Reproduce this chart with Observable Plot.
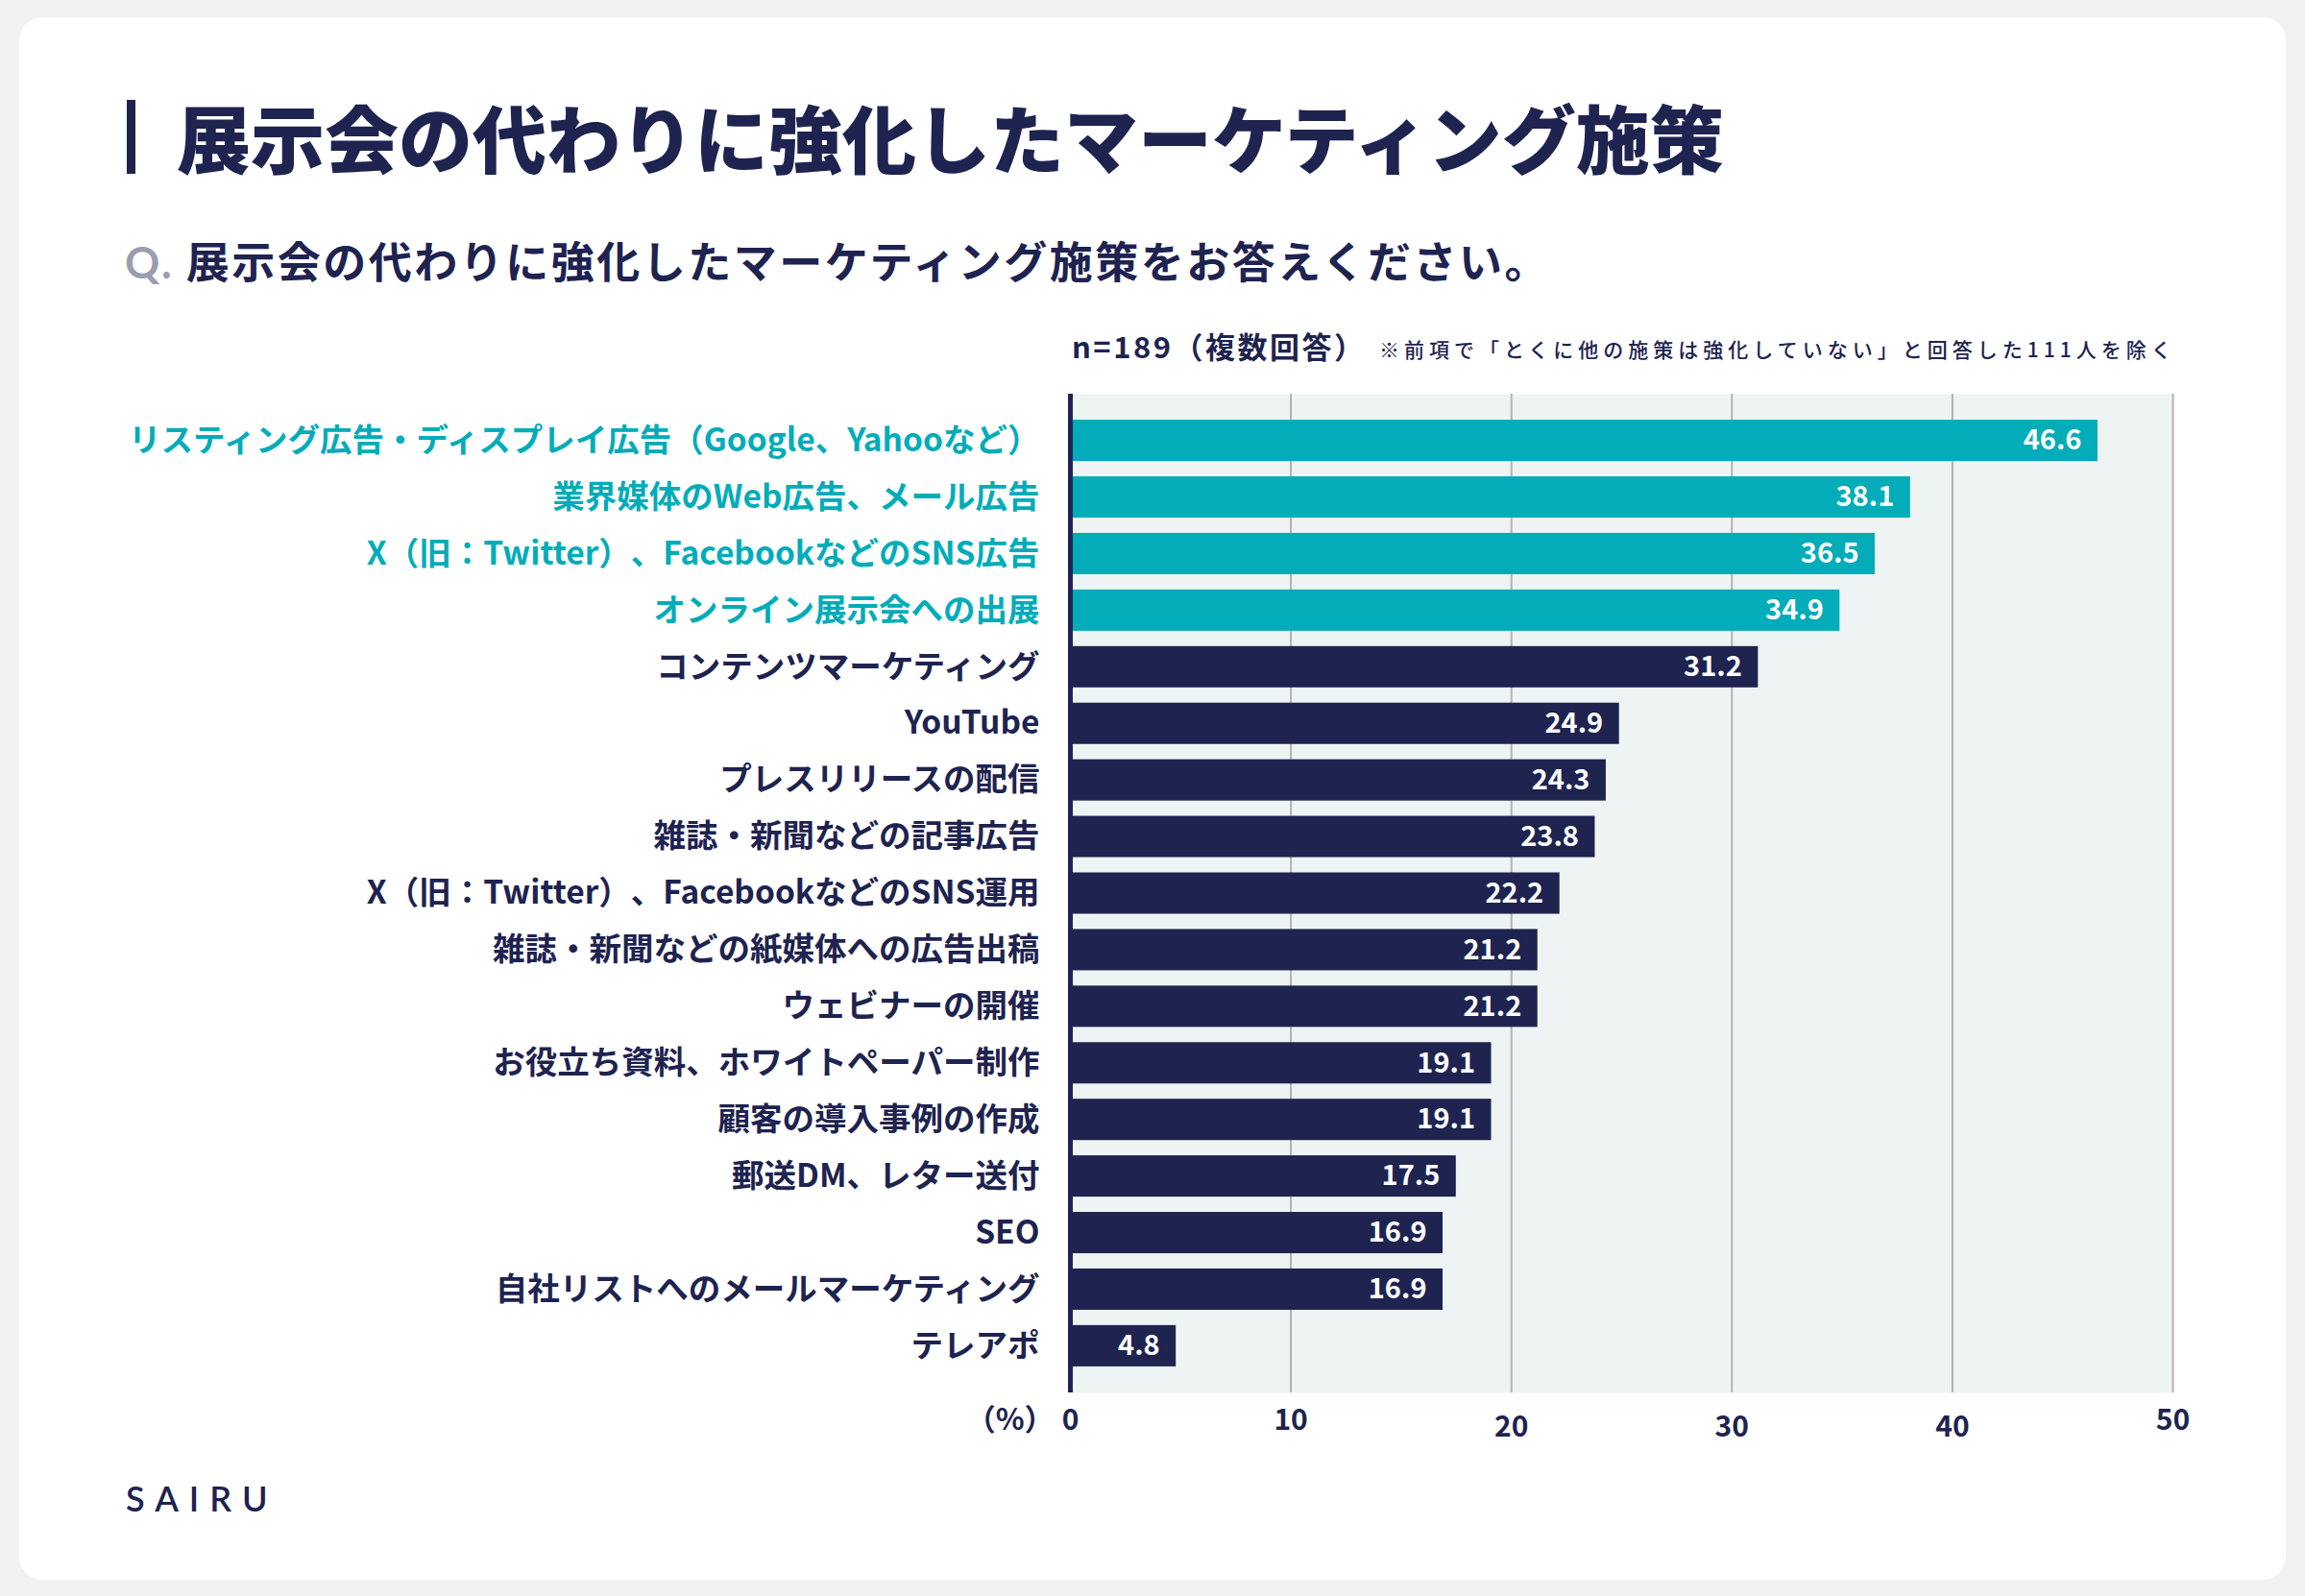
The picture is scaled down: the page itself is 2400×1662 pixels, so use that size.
<!DOCTYPE html>
<html><head><meta charset="utf-8">
<script src="https://cdn.jsdelivr.net/npm/d3@7"></script>
<script src="https://cdn.jsdelivr.net/npm/@observablehq/plot@0.6"></script>
<style>
*{text-spacing-trim:space-all;}
html,body{margin:0;padding:0;width:2400px;height:1662px;overflow:hidden;background:#f2f2f2;font-family:"Noto Sans CJK JP","Noto Sans",sans-serif;}
#card{position:absolute;left:20px;top:18px;width:2360px;height:1627px;background:#fff;border-radius:24px;}
#chart{position:absolute;left:0;top:0;width:2400px;height:1662px;}
.t{position:absolute;white-space:nowrap;color:#1e2350;font-weight:700;}
</style></head><body>
<div id="card"></div>
<div id="chart"></div>
<div class="t" style="left:132px;top:104px;width:9px;height:77px;background:#1e2350"></div>
<div class="t" style="left:184px;top:92px;height:100px;line-height:100px;font-size:77px;font-weight:900;">展示会の代わりに強化したマーケティング施策</div>
<div class="t" style="left:130px;top:246px;height:50px;line-height:50px;font-size:45px;letter-spacing:2.5px;"><span style="color:#9a9eae;font-family:Lato,'Noto Sans',sans-serif;">Q.</span> 展示会の代わりに強化したマーケティング施策をお答えください。</div>
<div class="t" style="left:1116px;top:340px;height:40px;line-height:40px;font-size:31px;letter-spacing:2.5px;">n=189（複数回答）</div>
<div class="t" style="left:1436px;top:343px;height:40px;line-height:40px;font-size:21px;font-weight:500;letter-spacing:5px;">※前項で「とくに他の施策は強化していない」と回答した111人を除く</div>
<div class="t" style="left:131px;top:1538px;height:44px;line-height:44px;font-size:36px;font-weight:600;letter-spacing:11px;font-family:Lato,'Noto Sans',sans-serif;">SAIRU</div>
<script>
const labels = [
  "リスティング広告・ディスプレイ広告（Google、Yahooなど）",
  "業界媒体のWeb広告、メール広告",
  "X（旧：Twitter）、FacebookなどのSNS広告",
  "オンライン展示会への出展",
  "コンテンツマーケティング",
  "YouTube",
  "プレスリリースの配信",
  "雑誌・新聞などの記事広告",
  "X（旧：Twitter）、FacebookなどのSNS運用",
  "雑誌・新聞などの紙媒体への広告出稿",
  "ウェビナーの開催",
  "お役立ち資料、ホワイトペーパー制作",
  "顧客の導入事例の作成",
  "郵送DM、レター送付",
  "SEO",
  "自社リストへのメールマーケティング",
  "テレアポ"
];
const values = [46.6, 38.1, 36.5, 34.9, 31.2, 24.9, 24.3, 23.8, 22.2, 21.2, 21.2, 19.1, 19.1, 17.5, 16.9, 16.9, 4.8];
const highlighted = [true, true, true, true, false, false, false, false, false, false, false, false, false, false, false, false, false];
const ticks = [0, 10, 20, 30, 40, 50];
const gridTicks = [10, 20, 30, 40, 50];
const tickRaised = [0, 10, 50];

const TEAL = "#02acb9", NAVY = "#1e2350";
const data = labels.map((label, i) => ({label, value: values[i], hi: highlighted[i]}));

const chart = Plot.plot({
  width: 2400,
  height: 1662,
  marginLeft: 1114,
  marginRight: 138,
  marginTop: 410,
  marginBottom: 212,
  style: {background: "transparent", fontFamily: "'Noto Sans CJK JP','Noto Sans',sans-serif", overflow: "visible"},
  x: {domain: [0, 50], axis: null},
  y: {domain: labels, paddingInner: 0.27, paddingOuter: 0.46, round: false, axis: null},
  marks: [
    Plot.frame({fill: "#eef4f4", stroke: null}),
    Plot.ruleX(gridTicks, {stroke: "#b3b3b3", strokeWidth: 2}),
    Plot.barX(data, {x: "value", y: "label", fill: d => d.hi ? TEAL : NAVY}),
    Plot.ruleX([0], {stroke: NAVY, strokeWidth: 5}),
    Plot.text(data, {x: "value", y: "label", text: d => d.value.toFixed(1), textAnchor: "end", dx: -17, fill: "white", fontSize: 29, fontWeight: 700}),
    Plot.text(data, {x: 0, y: "label", text: "label", textAnchor: "end", dx: -32, fill: d => d.hi ? TEAL : NAVY, fontSize: 33.5, fontWeight: 700}),
    Plot.text(ticks.filter(t => tickRaised.includes(t)), {x: d => d, frameAnchor: "bottom", dy: 29, text: d => String(d), fill: NAVY, fontSize: 30, fontWeight: 700, lineAnchor: "middle"}),
    Plot.text(ticks.filter(t => !tickRaised.includes(t)), {x: d => d, frameAnchor: "bottom", dy: 36, text: d => String(d), fill: NAVY, fontSize: 30, fontWeight: 700, lineAnchor: "middle"}),
    Plot.text(["（%）"], {x: 0, frameAnchor: "bottom", dy: 29, dx: -17, text: d => d, textAnchor: "end", fill: NAVY, fontSize: 31, fontWeight: 600, lineAnchor: "middle"})
  ]
});
document.getElementById("chart").appendChild(chart);
</script>
</body></html>
